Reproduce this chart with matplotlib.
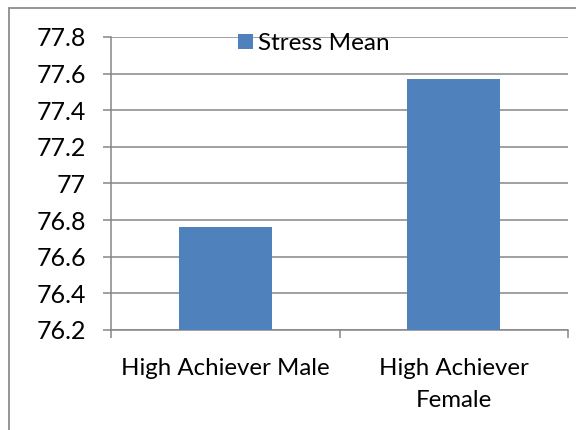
import matplotlib.pyplot as plt
from matplotlib.patches import Rectangle, Patch
from matplotlib.ticker import FixedLocator

categories = ["High Achiever Male", "High Achiever\nFemale"]
stress_mean = [76.76, 77.57]
y_ticks = [76.2, 76.4, 76.6, 76.8, 77.0, 77.2, 77.4, 77.6, 77.8]
y_labels = ["76.2", "76.4", "76.6", "76.8", "77", "77.2", "77.4", "77.6", "77.8"]

plt.rcParams["font.family"] = ["Lato", "DejaVu Sans"]

W, H = 576, 430
fig = plt.figure(figsize=(W / 100, H / 100), dpi=100)
ax = fig.add_axes([111 / W, 1 - 330 / H, (568 - 111) / W, (330 - 37) / H])

grid_col = "#868686"
bar_col = "#4F81BD"

x = range(len(categories))
ax.bar(x, stress_mean, width=0.405, color=bar_col, zorder=3)

ax.set_xlim(-0.5, len(categories) - 0.5)
ax.set_ylim(76.2, 77.8)
ax.set_yticks(y_ticks)
ax.set_yticklabels(y_labels, fontsize=18)
ax.yaxis.grid(True, color=grid_col, linewidth=1.1)
ax.set_axisbelow(True)

ax.set_xticks(list(x))
ax.set_xticklabels(categories, fontsize=17.3, linespacing=1.65)
ax.tick_params(axis="x", length=0, pad=20)
ax.xaxis.set_minor_locator(FixedLocator([-0.5, 0.5, 1.5]))
ax.tick_params(axis="x", which="minor", length=6, width=1.1, color=grid_col)
ax.tick_params(axis="y", length=6, width=1.1, color=grid_col, pad=12)

for side in ["top", "right"]:
    ax.spines[side].set_visible(False)
for side in ["left", "bottom"]:
    ax.spines[side].set_color(grid_col)
    ax.spines[side].set_linewidth(1.1)

# legend
handle = Patch(facecolor=bar_col, label="Stress Mean")
fig.legend(handles=[handle], loc="center", bbox_to_anchor=(314 / W, 1 - 43.5 / H),
           frameon=False, fontsize=17.5, handlelength=0.6, handleheight=0.6,
           handletextpad=0.2, borderpad=0)

# outer chart border
fig.patches.append(Rectangle((8.5 / W, -0.1), 1.2, 1 - 8 / H + 0.1,
                             transform=fig.transFigure, fill=False,
                             edgecolor="#8c8c8c", linewidth=1.3))

fig.savefig("out.png", dpi=100, facecolor="white")
